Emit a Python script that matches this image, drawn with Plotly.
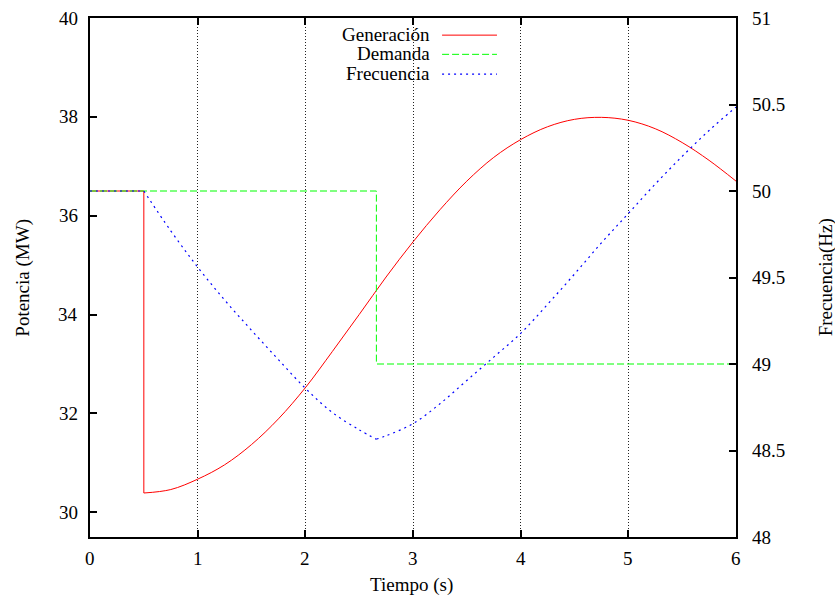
import numpy as np
import plotly.graph_objects as go

# ---------------- data ----------------
t_gen = [0.0, 0.5, 0.5, 0.75, 1.0, 1.25, 1.5, 1.75, 2.0, 2.25, 2.5, 2.75, 3.0,
         3.25, 3.5, 3.75, 4.0, 4.25, 4.5, 4.75, 5.0, 5.25, 5.5, 5.75, 6.0]
generacion = [36.5, 36.5, 30.39, 30.46, 30.67, 30.96, 31.37, 31.89, 32.52, 33.25,
              34.00, 34.76, 35.47, 36.12, 36.70, 37.18, 37.54, 37.80, 37.95,
              37.99, 37.93, 37.76, 37.48, 37.12, 36.70]

t_dem = [0.0, 2.66, 6.0]
demanda = [36.5, 33.0, 33.0]

t_freq = [0.0, 0.5, 0.75, 1.0, 1.25, 1.5, 1.75, 2.0, 2.25, 2.5, 2.66, 2.75, 3.0,
          3.25, 3.5, 3.75, 4.0, 4.25, 4.5, 4.75, 5.0, 5.25, 5.5, 5.75, 6.0]
frecuencia = [50.0, 50.0, 49.77, 49.56, 49.37, 49.195, 49.025, 48.86, 48.72,
              48.62, 48.565, 48.585, 48.655, 48.77, 48.905, 49.04, 49.177,
              49.345, 49.52, 49.70, 49.87, 50.04, 50.20, 50.35, 50.485]

x_ticks = [0, 1, 2, 3, 4, 5, 6]
x_ticktext = ["0", "1", "2", "3", "4", "5", "6"]
y_ticks = [30, 32, 34, 36, 38, 40]
y_ticktext = ["30", "32", "34", "36", "38", "40"]
y2_ticks = [48, 48.5, 49, 49.5, 50, 50.5, 51]
y2_ticktext = ["48", "48.5", "49", "49.5", "50", "50.5", "51"]

series_names = ["Generación", "Demanda", "Frecuencia"]

# ---------------- styles ----------------
RED = "#ff0000"
GREEN = "#00ff00"
BLUE = "#0000ff"
FONT = "Liberation Serif"
FS = 19
DASH_GREEN = "7px,3px"
DASH_BLUE = "2px,4px"
TXT = dict(family=FONT, size=FS, color="black")

fig = go.Figure()

# Generación: flat + drop (linear), then smooth curve
fig.add_trace(go.Scatter(x=t_gen[:3], y=generacion[:3], mode="lines",
                         line=dict(color=RED, width=1), showlegend=False, hoverinfo="skip"))
fig.add_trace(go.Scatter(x=t_gen[2:], y=generacion[2:], mode="lines",
                         line=dict(color=RED, width=1, shape="spline", smoothing=1),
                         showlegend=False))

# Demanda: step
fig.add_trace(go.Scatter(x=t_dem, y=demanda, mode="lines",
                         line=dict(color=GREEN, width=1, shape="hv", dash=DASH_GREEN),
                         showlegend=False))

# Frecuencia: flat, descending branch, rising branch (right axis)
imin = int(np.argmin(frecuencia))
fig.add_trace(go.Scatter(x=t_freq[:2], y=frecuencia[:2], yaxis="y2", mode="lines",
                         line=dict(color=BLUE, width=1.2, dash=DASH_BLUE), showlegend=False))
fig.add_trace(go.Scatter(x=t_freq[1:imin + 1], y=frecuencia[1:imin + 1], yaxis="y2",
                         mode="lines",
                         line=dict(color=BLUE, width=1.2, dash=DASH_BLUE, shape="spline", smoothing=1),
                         showlegend=False))
fig.add_trace(go.Scatter(x=t_freq[imin:], y=frecuencia[imin:], yaxis="y2", mode="lines",
                         line=dict(color=BLUE, width=1.2, dash=DASH_BLUE, shape="spline", smoothing=1),
                         showlegend=False))

axis_common = dict(ticks="inside", ticklen=7, tickwidth=1.5, tickcolor="black",
                   showline=True, linecolor="black", linewidth=1.5, zeroline=False,
                   showticklabels=False)

fig.update_layout(
    template="none",
    width=835, height=599,
    margin=dict(l=90, r=99, t=18, b=62),
    paper_bgcolor="white", plot_bgcolor="white",
    showlegend=False,
    font=TXT,
    xaxis=dict(range=[0, 6], tickvals=x_ticks, mirror="ticks",
               showgrid=True, gridcolor="#222222", gridwidth=1, griddash="1px,2px",
               **axis_common),
    yaxis=dict(range=[29.5, 40], tickvals=y_ticks, showgrid=False, mirror=False,
               **axis_common),
    yaxis2=dict(range=[48, 51], tickvals=y2_ticks, overlaying="y", side="right",
                showgrid=False, **axis_common),
)

# tick labels (serif, gnuplot style)
for v, s in zip(x_ticks, x_ticktext):
    fig.add_annotation(text=s, xref="x", yref="paper", x=v, y=0, yshift=-21,
                       showarrow=False, xanchor="center", yanchor="middle", font=TXT)
for v, s in zip(y_ticks, y_ticktext):
    fig.add_annotation(text=s, xref="paper", yref="y", x=0, y=v, xshift=-10,
                       showarrow=False, xanchor="right", yanchor="middle", font=TXT)
for v, s in zip(y2_ticks, y2_ticktext):
    fig.add_annotation(text=s, xref="paper", yref="y2", x=1, y=v, xshift=14,
                       showarrow=False, xanchor="left", yanchor="middle", font=TXT)

# axis titles
fig.add_annotation(text="Tiempo (s)", xref="paper", yref="paper", x=0.498, y=-0.0925,
                   showarrow=False, xanchor="center", yanchor="middle", font=TXT)
fig.add_annotation(text="Potencia (MW)", xref="paper", yref="paper", x=-0.105, y=0.5,
                   textangle=-90, showarrow=False, xanchor="center", yanchor="middle",
                   font=TXT)
fig.add_annotation(text="Frecuencia(Hz)", xref="paper", yref="paper", x=1.139, y=0.5,
                   textangle=-90, showarrow=False, xanchor="center", yanchor="middle",
                   font=TXT)

# gnuplot-style legend: text right-aligned, sample on the right
legend_y = [0.967, 0.930, 0.892]
legend_styles = [dict(color=RED, width=1), dict(color=GREEN, width=1, dash=DASH_GREEN),
                 dict(color=BLUE, width=1.2, dash=DASH_BLUE)]
for name, ly, st in zip(series_names, legend_y, legend_styles):
    fig.add_annotation(text=name, xref="paper", yref="paper", x=0.5294, y=ly + 0.002,
                       showarrow=False, xanchor="right", yanchor="middle", font=TXT)
    fig.add_shape(type="line", xref="paper", yref="paper", x0=0.545, x1=0.630,
                  y0=ly, y1=ly, line=st)

fig.write_html("out.html")
